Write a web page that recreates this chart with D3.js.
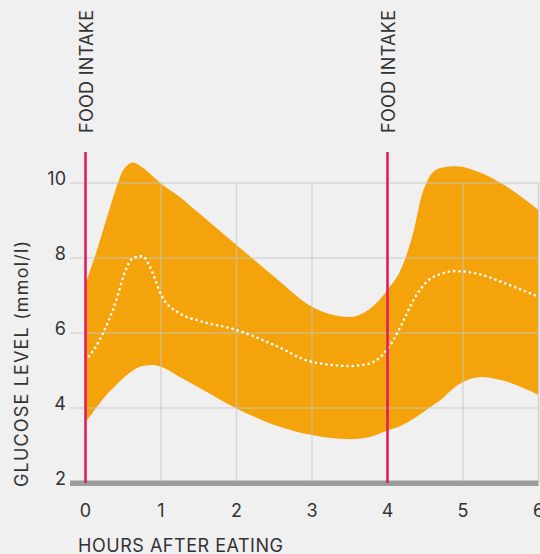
<!DOCTYPE html>
<html>
<head>
<meta charset="utf-8">
<script src="https://cdn.jsdelivr.net/npm/d3@7"></script>
<style>
  html, body { margin: 0; padding: 0; background: #f0f0f0; }
  svg { display: block; }
  text { font-family: Inter, "Open Sans", sans-serif; fill: #333; }
</style>
</head>
<body>
<svg id="chart" width="540" height="554"></svg>
<script>
// ---- data ----
const hours     = [0,    0.15, 0.3,  0.42, 0.5,   0.63,  0.75,  0.9,   1.0,  1.25, 1.5,  2,    2.5,  3,    3.5,  3.75, 4,    4.2,  4.35, 4.45, 4.55,  4.7,   4.9,   5.25,  5.5,  6];
const upperVals = [7.3,  8.2,  9.19, 9.95, 10.35, 10.55, 10.42, 10.17, 9.99, 9.63, 9.2,  8.35, 7.5,  6.7,  6.43, 6.62, 7.15, 7.8,  8.75, 9.65, 10.15, 10.4,  10.45, 10.26, 10.0, 9.28];
const lowerVals = [3.63, 4.03, 4.4,  4.64, 4.8,   5.0,   5.12,  5.15,  5.1,  4.83, 4.55, 3.99, 3.55, 3.28, 3.17, 3.22, 3.4,  3.55, 3.72, 3.86, 4.0,   4.21,  4.57,  4.83,  4.75, 4.35];
const meanVals  = [5.27, 5.68, 6.3,  6.95, 7.5,   8.0,   8.05,  7.55,  7.02, 6.52, 6.33, 6.08, 5.68, 5.23, 5.12, 5.18, 5.57, 6.28, 6.9,  7.2,  7.42,  7.57,  7.65,  7.55,  7.37, 6.97];
const xTicks = [0, 1, 2, 3, 4, 5, 6];
const yTicks = [2, 4, 6, 8, 10];
const intakeHours = [0, 4];
const intakeLabel = "FOOD INTAKE";
const xTitle = "HOURS AFTER EATING";
const yTitle = "GLUCOSE LEVEL (mmol/l)";

// ---- layout ----
const svg = d3.select("#chart");
const x = d3.scaleLinear().domain([0, 6]).range([85.5, 538.5]);
const y = d3.scaleLinear().domain([2, 10]).range([483, 183]);
const rows = hours.map((h, i) => ({h, up: upperVals[i], lo: lowerVals[i], m: meanVals[i]}));

// band
const area = d3.area().curve(d3.curveMonotoneX)
  .x(d => x(d.h)).y0(d => y(d.lo)).y1(d => y(d.up));
svg.append("path").datum(rows).attr("d", area).attr("fill", "#f5a30b");

// grid
const grid = svg.append("g").attr("stroke", "#c4c4c4").attr("stroke-opacity", 0.6).attr("stroke-width", 1.5);
grid.selectAll("line.h").data(yTicks.filter(v => v > 2)).join("line")
  .attr("x1", 70).attr("x2", x(6)).attr("y1", d => y(d)).attr("y2", d => y(d));
grid.selectAll("line.v").data(xTicks.filter(v => v > 0)).join("line")
  .attr("x1", d => x(d)).attr("x2", d => x(d)).attr("y1", y(10)).attr("y2", y(2));

// mean dotted line
const line = d3.line().curve(d3.curveMonotoneX).x(d => x(d.h)).y(d => y(d.m));
svg.append("path").datum(rows).attr("d", line)
  .attr("fill", "none").attr("stroke", "#fff").attr("stroke-width", 2.6)
  .attr("stroke-linecap", "round").attr("stroke-dasharray", "0.1 5.2");

// baseline
svg.append("rect").attr("x", 70).attr("width", x(6) - 70).attr("y", y(2) - 2.5).attr("height", 5.5).attr("fill", "#9b9b9b");

// food intake lines
intakeHours.forEach(h => {
  svg.append("line").attr("x1", x(h)).attr("x2", x(h)).attr("y1", 152).attr("y2", y(2))
    .attr("stroke", "#e3165b").attr("stroke-width", 2.5);
  svg.append("text").attr("transform", `translate(${x(h) + 7},133) rotate(-90)`)
    .attr("font-size", 18).attr("textLength", 123).attr("lengthAdjust", "spacing").text(intakeLabel);
});

// y tick labels
svg.selectAll("text.yt").data(yTicks).join("text").attr("class", "yt")
  .attr("x", 66).attr("y", d => y(d) + 2).attr("text-anchor", "end")
  .attr("font-size", 18).text(d => d);

// x tick labels
svg.selectAll("text.xt").data(xTicks).join("text").attr("class", "xt")
  .attr("x", d => x(d)).attr("y", 517).attr("text-anchor", "middle")
  .attr("font-size", 18).text(d => d);

// titles
svg.append("text").attr("x", 78).attr("y", 552).attr("font-size", 18)
  .attr("textLength", 205).attr("lengthAdjust", "spacing").text(xTitle);
svg.append("text").attr("transform", "translate(28,487) rotate(-90)").attr("font-size", 18)
  .attr("textLength", 246).attr("lengthAdjust", "spacing").text(yTitle);
</script>
</body>
</html>
